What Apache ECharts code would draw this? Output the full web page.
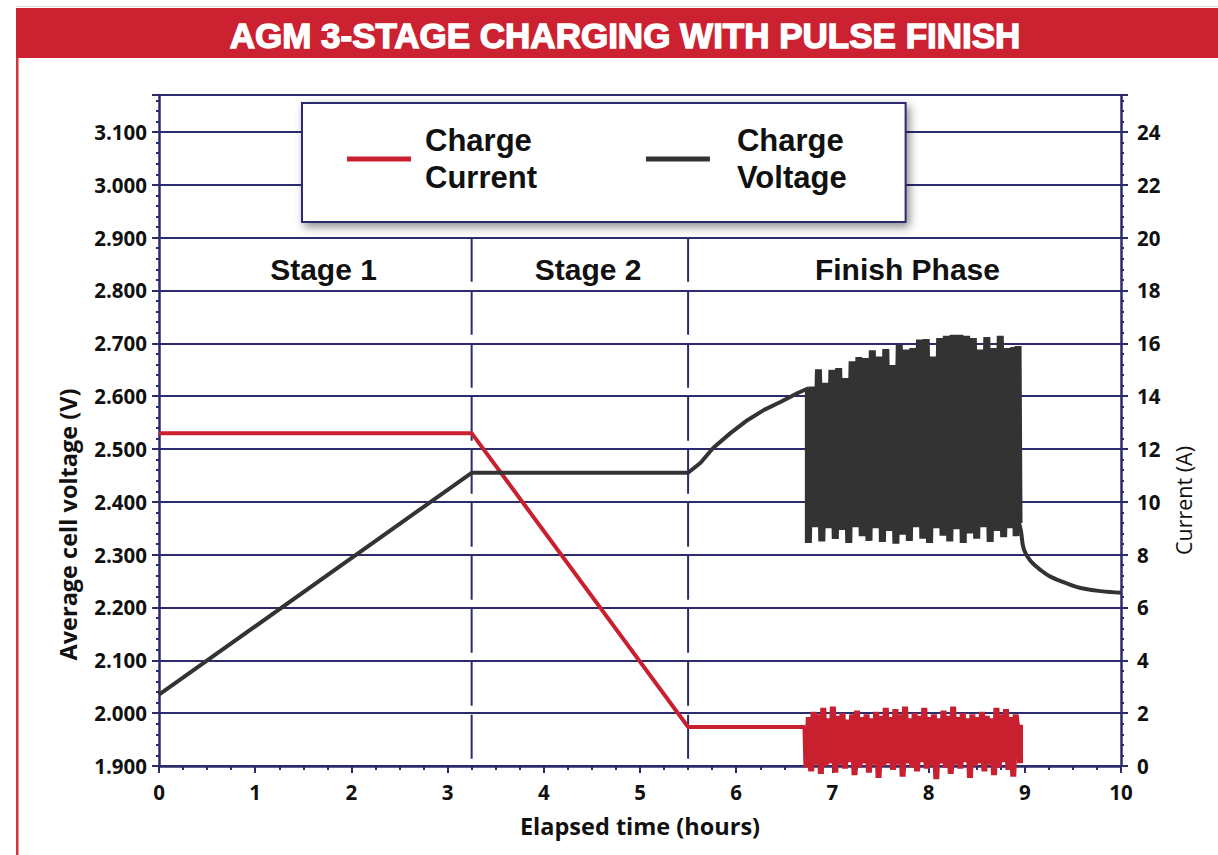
<!DOCTYPE html>
<html><head><meta charset="utf-8">
<script src="https://cdn.jsdelivr.net/npm/echarts@6/dist/echarts.min.js"></script>
<style>html,body{margin:0;padding:0;background:#fff}#c{width:1218px;height:855px}</style>
</head><body><div id="c"></div>
<script>
// ---------- DATA ----------
const titleText = 'AGM 3-STAGE CHARGING WITH PULSE FINISH';
const seriesNames = ['Charge\nCurrent', 'Charge\nVoltage'];
const xAxisName = 'Elapsed time (hours)';
const leftAxisName = 'Average cell voltage (V)';
const rightAxisName = 'Current (A)';
const stageNames = ['Stage 1', 'Stage 2', 'Finish Phase'];
const stageLabelPos = [[1.71, 2.84], [4.46, 2.84], [7.78, 2.84]];
const stageBoundaries = [3.25, 5.5];

// Charge voltage (V) : [hours, volts]
const voltageMain = [[0, 2.035], [3.25, 2.455], [5.5, 2.455], [5.63, 2.474], [5.76, 2.502], [5.94, 2.530],
  [6.12, 2.555], [6.29, 2.574], [6.46, 2.589], [6.64, 2.606], [6.75, 2.615]];
const voltagePulseLow = [[6.75,2.322],[6.82,2.352],[6.89,2.325],[6.96,2.350],[7.03,2.330],[7.10,2.347],[7.17,2.322],
  [7.24,2.352],[7.31,2.335],[7.38,2.326],[7.45,2.350],[7.52,2.324],[7.59,2.345],[7.66,2.321],[7.73,2.338],[7.80,2.326],
  [7.87,2.352],[7.94,2.330],[8.01,2.322],[8.08,2.350],[8.15,2.336],[8.22,2.325],[8.29,2.348],[8.36,2.322],[8.43,2.340],
  [8.50,2.330],[8.57,2.352],[8.64,2.324],[8.71,2.345],[8.78,2.333],[8.85,2.350],[8.91,2.335]];
const voltagePulseHigh = [[6.785,2.618],[6.855,2.651],[6.925,2.625],[6.995,2.650],[7.065,2.653],[7.135,2.634],[7.205,2.666],
  [7.275,2.674],[7.345,2.672],[7.415,2.687],[7.485,2.675],[7.555,2.689],[7.625,2.659],[7.695,2.697],[7.765,2.688],[7.835,2.691],
  [7.905,2.707],[7.975,2.708],[8.045,2.675],[8.115,2.710],[8.185,2.714],[8.255,2.716],[8.325,2.716],[8.395,2.714],[8.465,2.710],
  [8.535,2.688],[8.605,2.712],[8.675,2.691],[8.745,2.714],[8.815,2.691],[8.885,2.693],[8.93,2.695]];
const voltageDecay = [[8.94, 2.36], [8.96, 2.345], [8.99, 2.310], [9.06, 2.288], [9.17, 2.270], [9.27, 2.258],
  [9.43, 2.246], [9.58, 2.237], [9.79, 2.231], [10, 2.228]];

// Charge current (A) : [hours, amps]
const currentMain = [[0, 12.6], [3.25, 12.6], [5.5, 1.48], [6.72, 1.48]];
const currentPulseLow = [[6.73,-0.05],[6.78,-0.20],[6.83,0.05],[6.88,-0.30],[6.93,0.00],[6.98,0.10],[7.03,-0.25],[7.08,0.05],
  [7.13,-0.10],[7.18,0.15],[7.23,-0.35],[7.28,-0.05],[7.33,0.10],[7.38,-0.25],[7.43,0.05],[7.48,-0.45],[7.53,0.00],[7.58,0.10],
  [7.63,-0.15],[7.68,0.05],[7.73,-0.40],[7.78,0.10],[7.83,-0.05],[7.88,-0.20],[7.93,0.15],[7.98,-0.10],[8.03,0.00],[8.08,-0.50],
  [8.13,0.10],[8.18,-0.05],[8.23,-0.30],[8.28,0.05],[8.33,-0.10],[8.38,0.15],[8.43,-0.45],[8.48,0.00],[8.53,0.10],[8.58,-0.20],
  [8.63,0.05],[8.68,-0.35],[8.73,-0.05],[8.78,0.15],[8.83,-0.15],[8.88,-0.40]];
const currentPulseHigh = [[6.755,1.85],[6.805,2.05],[6.855,1.95],[6.905,2.20],[6.955,1.80],[7.005,2.25],[7.055,1.90],[7.105,2.00],
  [7.155,1.75],[7.205,1.95],[7.255,2.10],[7.305,1.85],[7.355,1.95],[7.405,1.80],[7.455,2.05],[7.505,1.90],[7.555,2.20],[7.605,1.85],
  [7.655,2.15],[7.705,1.95],[7.755,2.25],[7.805,1.80],[7.855,2.00],[7.905,1.90],[7.955,2.20],[8.005,1.85],[8.055,1.95],[8.105,1.80],
  [8.155,2.10],[8.205,1.90],[8.255,2.25],[8.305,1.85],[8.355,2.00],[8.405,1.80],[8.455,1.95],[8.505,1.85],[8.555,2.05],[8.605,1.90],
  [8.655,1.80],[8.705,2.20],[8.755,1.95],[8.805,2.15],[8.855,1.85],[8.905,1.95]];
const currentEnd = [[8.92, 1.45], [8.95, 1.45], [8.95, 0.10]];

// ---------- BUILD ----------
function interleave(lows, highs) {
  const out = [];
  const n = Math.max(lows.length, highs.length);
  for (let i = 0; i < n; i++) {
    if (lows[i]) out.push(lows[i]);
    if (highs[i]) out.push(highs[i]);
  }
  return out;
}
const voltagePulseData = [voltageMain[voltageMain.length - 1]].concat(interleave(voltagePulseLow, voltagePulseHigh), [voltageDecay[0]]);
const currentPulseData = [currentMain[currentMain.length - 1]].concat(interleave(currentPulseLow, currentPulseHigh), currentEnd);

const NAVY = '#2c2b6c';
const RED = '#c9202f';
const DARK = '#333333';
const tickFont = { fontFamily: '"Open Sans", sans-serif', fontWeight: 'bold', fontSize: 20.5, color: '#111' };

const chart = echarts.init(document.getElementById('c'), null, { renderer: 'svg' });
chart.setOption({
  animation: false,
  backgroundColor: '#ffffff',
  graphic: [
    { type: 'rect', shape: { x: 16, y: 6, width: 1202, height: 1 }, style: { fill: '#d8d8d8' }, silent: true },
    { type: 'rect', shape: { x: 16, y: 8, width: 1202, height: 50 }, style: { fill: '#cc2131' }, silent: true },
    { type: 'rect', shape: { x: 16, y: 57, width: 2.5, height: 800 }, style: { fill: '#d2343f' }, silent: true },
    { type: 'text', x: 625, y: 35, silent: true,
      style: { text: titleText, fill: '#ffffff', stroke: '#ffffff', lineWidth: 1.4,
        font: 'bold 35px "Liberation Sans", Arial, sans-serif', align: 'center', verticalAlign: 'middle' } }
  ],
  grid: { left: 159, right: 97, top: 95, bottom: 89, containLabel: false },
  legend: {
    left: 302, top: 103,
    orient: 'horizontal',
    selectedMode: false,
    padding: [19, 59, 26, 45],
    itemGap: 109,
    itemWidth: 64,
    itemHeight: 5,
    backgroundColor: '#ffffff',
    borderColor: NAVY,
    borderWidth: 2,
    shadowBlur: 10,
    shadowColor: 'rgba(0,0,0,0.45)',
    shadowOffsetX: 3,
    shadowOffsetY: 4,
    textStyle: { fontFamily: '"Liberation Sans", Arial, sans-serif', fontWeight: 'bold', fontSize: 31, lineHeight: 37, color: '#111' },
    data: [
      { name: seriesNames[0], icon: 'rect', itemStyle: { color: RED }, textStyle: { padding: [0, 0, 0, 9] } },
      { name: seriesNames[1], icon: 'rect', itemStyle: { color: DARK }, textStyle: { padding: [0, 0, 0, 22] } }
    ]
  },
  xAxis: {
    type: 'value', min: 0, max: 10, interval: 1,
    name: xAxisName, nameLocation: 'middle', nameGap: 48,
    nameTextStyle: { fontFamily: '"Open Sans", sans-serif', fontWeight: 'bold', fontSize: 23.5, color: '#111' },
    axisLine: { show: true, onZero: false, lineStyle: { color: NAVY, width: 2.5 } },
    axisTick: { show: true, length: 7, lineStyle: { color: NAVY, width: 2 } },
    minorTick: { show: true, splitNumber: 4, length: 4, lineStyle: { color: NAVY, width: 2 } },
    splitLine: { show: false },
    axisLabel: Object.assign({ margin: 15 }, tickFont)
  },
  yAxis: [
    {
      type: 'value', position: 'left', min: 1.9, max: 3.17, interval: 0.1,
      name: leftAxisName, nameLocation: 'middle', nameGap: 79,
      nameTextStyle: { fontFamily: '"Open Sans", sans-serif', fontWeight: 'bold', fontSize: 23.5, color: '#111', padding: [0, 188, 0, 0] },
      axisLine: { show: true, lineStyle: { color: NAVY, width: 2.5 } },
      axisTick: { show: true, length: 7, lineStyle: { color: NAVY, width: 2 } },
      minorTick: { show: true, splitNumber: 5, length: 3, lineStyle: { color: NAVY, width: 2 } },
      splitLine: { show: true, lineStyle: { color: NAVY, width: 2 } },
      axisLabel: Object.assign({ margin: 12, showMaxLabel: false, formatter: v => v.toFixed(3) }, tickFont)
    },
    {
      type: 'value', position: 'right', min: 0, max: 25.4, interval: 2,
      name: rightAxisName, nameLocation: 'middle', nameGap: 51, nameRotate: 90,
      nameTextStyle: { fontFamily: '"Open Sans", sans-serif', fontWeight: 500, fontSize: 21.5, color: '#111', padding: [0, 140, 0, 0] },
      axisLine: { show: true, lineStyle: { color: NAVY, width: 2.5 } },
      axisTick: { show: true, length: 7, lineStyle: { color: NAVY, width: 2 } },
      minorTick: { show: true, splitNumber: 5, length: 3, lineStyle: { color: NAVY, width: 2 } },
      splitLine: { show: false },
      axisLabel: Object.assign({ margin: 16, showMaxLabel: false }, tickFont)
    }
  ],
  series: [
    {
      name: seriesNames[0], type: 'line', yAxisIndex: 1, data: currentMain,
      showSymbol: false, clip: false, z: 5,
      lineStyle: { color: RED, width: 4, join: 'miter' }, itemStyle: { color: RED }
    },
    {
      name: 'Charge Current pulse', type: 'line', yAxisIndex: 1, data: currentPulseData,
      showSymbol: false, clip: false, z: 5,
      lineStyle: { color: RED, width: 6, join: 'miter' }, itemStyle: { color: RED }
    },
    {
      name: seriesNames[1], type: 'line', yAxisIndex: 0, data: voltageMain,
      showSymbol: false, clip: false, z: 6,
      lineStyle: { color: DARK, width: 4, join: 'round' }, itemStyle: { color: DARK }
    },
    {
      name: 'Charge Voltage pulse', type: 'line', yAxisIndex: 0, data: voltagePulseData,
      showSymbol: false, clip: false, z: 6,
      lineStyle: { color: DARK, width: 7, join: 'miter' }, itemStyle: { color: DARK }
    },
    {
      name: 'Charge Voltage decay', type: 'line', yAxisIndex: 0, data: voltageDecay,
      showSymbol: false, clip: false, z: 6, smooth: 0.4,
      lineStyle: { color: DARK, width: 4 }, itemStyle: { color: DARK }
    },
    ...stageBoundaries.map(b => ({
      type: 'line', yAxisIndex: 0, data: [[b, 2.9], [b, 1.9]], showSymbol: false, silent: true, z: 3,
      lineStyle: { color: NAVY, width: 2, type: [44, 9] }
    })),
    {
      type: 'scatter', yAxisIndex: 0, symbolSize: 1, silent: true, z: 7,
      itemStyle: { color: 'rgba(0,0,0,0)', opacity: 1 },
      data: stageNames.map((n, i) => ({ name: n, value: stageLabelPos[i] })),
      label: { show: true, position: 'inside', formatter: p => p.name, opacity: 1,
        fontFamily: '"Liberation Sans", Arial, sans-serif', fontWeight: 'bold', fontSize: 30, color: '#111111' }
    }
  ]
});
</script></body></html>
